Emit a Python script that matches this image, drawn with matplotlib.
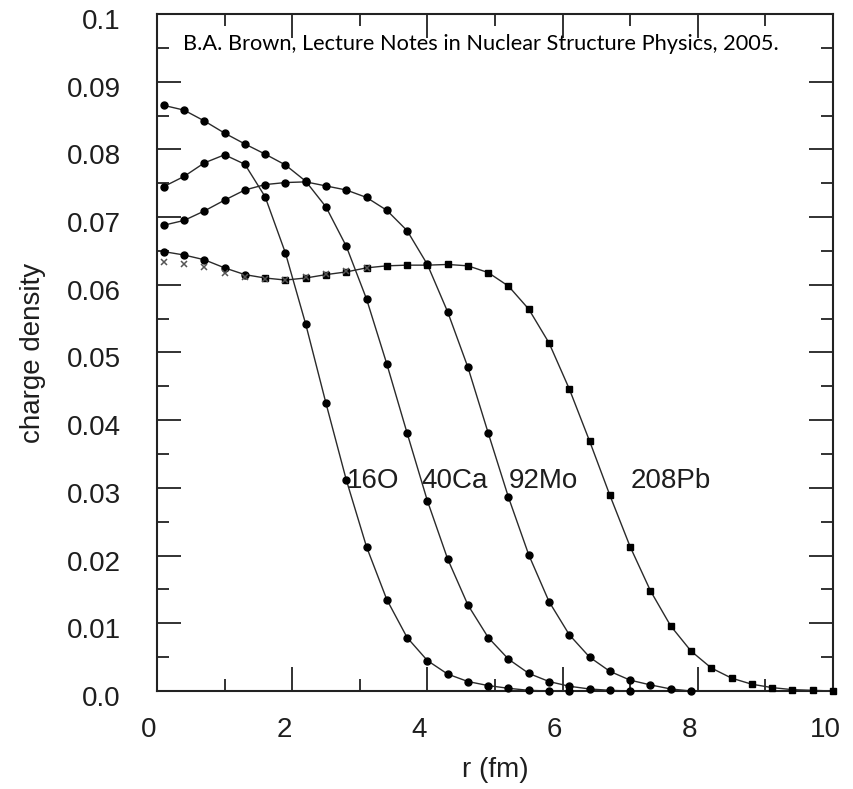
import matplotlib
matplotlib.use("Agg")
import matplotlib.pyplot as plt
from matplotlib.ticker import MultipleLocator
from matplotlib.transforms import ScaledTranslation

# ------------------------------------------------------------------
# data (r in fm, charge density in e/fm^3)
# ------------------------------------------------------------------
r_o16 = [0.1, 0.4, 0.7, 1.0, 1.3, 1.6, 1.9, 2.2, 2.5, 2.8, 3.1, 3.4, 3.7,
         4.0, 4.3, 4.6, 4.9, 5.2, 5.5, 5.8, 6.1]
rho_o16 = [0.0745, 0.0760, 0.0780, 0.0792, 0.0778, 0.0730, 0.0647, 0.0542,
           0.0425, 0.0312, 0.0213, 0.0135, 0.0079, 0.0045, 0.0025, 0.0014,
           0.0008, 0.0004, 0.0001, 0.0, 0.0]

r_ca40 = [0.1, 0.4, 0.7, 1.0, 1.3, 1.6, 1.9, 2.2, 2.5, 2.8, 3.1, 3.4, 3.7,
          4.0, 4.3, 4.6, 4.9, 5.2, 5.5, 5.8, 6.1, 6.4, 6.7, 7.0]
rho_ca40 = [0.0865, 0.0858, 0.0842, 0.0824, 0.0808, 0.0793, 0.0777, 0.0753,
            0.0715, 0.0657, 0.0579, 0.0483, 0.0381, 0.0281, 0.0195, 0.0127,
            0.0079, 0.0047, 0.0026, 0.0014, 0.0007, 0.0003, 0.0001, 0.0]

r_mo92 = [0.1, 0.4, 0.7, 1.0, 1.3, 1.6, 1.9, 2.2, 2.5, 2.8, 3.1, 3.4, 3.7,
          4.0, 4.3, 4.6, 4.9, 5.2, 5.5, 5.8, 6.1, 6.4, 6.7, 7.0, 7.3, 7.6, 7.9]
rho_mo92 = [0.0688, 0.0695, 0.0709, 0.0725, 0.0740, 0.0748, 0.0751, 0.0752,
            0.0746, 0.0740, 0.0729, 0.0710, 0.0680, 0.0630, 0.0560, 0.0478,
            0.0381, 0.0286, 0.0201, 0.0132, 0.0083, 0.0050, 0.0029, 0.0016,
            0.0009, 0.0003, 0.0]

r_pb208 = [0.1, 0.4, 0.7, 1.0, 1.3, 1.6, 1.9, 2.2, 2.5, 2.8, 3.1, 3.4, 3.7,
           4.0, 4.3, 4.6, 4.9, 5.2, 5.5, 5.8, 6.1, 6.4, 6.7, 7.0, 7.3, 7.6,
           7.9, 8.2, 8.5, 8.8, 9.1, 9.4, 9.7, 10.0]
rho_pb208 = [0.0649, 0.0644, 0.0637, 0.0625, 0.0615, 0.0610, 0.0607, 0.0610,
             0.0615, 0.0619, 0.0625, 0.0628, 0.0629, 0.0629, 0.0630, 0.0628,
             0.0618, 0.0598, 0.0564, 0.0514, 0.0446, 0.0369, 0.0289, 0.0213,
             0.0148, 0.0096, 0.0059, 0.0034, 0.0019, 0.0010, 0.0005, 0.0002,
             0.0001, 0.0]

# crosses near the centre of 208Pb
r_pb_x = [0.1, 0.4, 0.7, 1.0, 1.3, 1.6, 1.9, 2.2, 2.5, 2.8, 3.1]
rho_pb_x = [0.0634, 0.0631, 0.0626, 0.0618, 0.0612, 0.0609, 0.0607, 0.0611,
            0.0616, 0.0620, 0.0625]

nuclei = ["16O", "40Ca", "92Mo", "208Pb"]
label_r = [2.81, 3.91, 5.21, 7.01]
label_rho = 0.030

xticks = [0, 2, 4, 6, 8, 10]
yticks = [0.0, 0.01, 0.02, 0.03, 0.04, 0.05, 0.06, 0.07, 0.08, 0.09, 0.1]
ytick_labels = ["0.0", "0.01", "0.02", "0.03", "0.04", "0.05", "0.06",
                "0.07", "0.08", "0.09", "0.1"]

citation = "B.A. Brown, Lecture Notes in Nuclear Structure Physics, 2005."

# ------------------------------------------------------------------
# figure
# ------------------------------------------------------------------
plt.rcParams['font.family'] = ['Liberation Sans', 'DejaVu Sans']
TXT = '#1e1e1e'

fig = plt.figure(figsize=(8.54, 7.89), dpi=100)
ax = fig.add_axes([0.1838, 0.1242, 0.7916, 0.8581])

line_kw = dict(color='#2a2a2a', lw=1.0, clip_on=False, zorder=3)
ax.plot(r_o16, rho_o16, marker='o', ms=5, mfc='black', mec='black', **line_kw)
ax.plot(r_ca40, rho_ca40, marker='o', ms=5, mfc='black', mec='black', **line_kw)
ax.plot(r_mo92, rho_mo92, marker='o', ms=5, mfc='black', mec='black', **line_kw)
ax.plot(r_pb208, rho_pb208, color='#2a2a2a', lw=1.0, zorder=3, clip_on=False)
ax.plot(r_pb208[:5], rho_pb208[:5], ls='none', marker='o', ms=5,
        color='black', zorder=4, clip_on=False)
ax.plot(r_pb208[5:], rho_pb208[5:], ls='none', marker='s', ms=4.6,
        color='black', zorder=4, clip_on=False)
ax.plot(r_pb_x, rho_pb_x, ls='none', marker='x', ms=5, mew=1.1,
        color='#555555', zorder=4)

for name, xr in zip(nuclei, label_r):
    ax.text(xr, label_rho, name, fontsize=20, color=TXT,
            ha='left', va='baseline')

ax.set_xlim(0, 10)
ax.set_ylim(0, 0.1)
ax.set_xticks(xticks)
ax.set_xticklabels([str(t) for t in xticks])
ax.set_yticks(yticks)
ax.set_yticklabels(ytick_labels)
ax.xaxis.set_minor_locator(MultipleLocator(1))
ax.yaxis.set_minor_locator(MultipleLocator(0.005))

ax.tick_params(which='both', direction='in', top=True, right=True,
               width=1.3, color='#222222', labelsize=20, labelcolor=TXT)
ax.tick_params(which='major', length=17)
ax.tick_params(which='minor', length=8.5)
ax.tick_params(axis='x', which='major', pad=19)
ax.tick_params(axis='y', which='major', pad=26)

for sp in ax.spines.values():
    sp.set_linewidth(1.5)
    sp.set_color('#222222')

ax.set_xlabel('r (fm)', fontsize=20, color=TXT, labelpad=10)
ax.set_ylabel('charge density', fontsize=20, color=TXT, labelpad=15)

# tick labels in the original sit slightly off their ticks
shift_x = ScaledTranslation(-8 / 100, 0, fig.dpi_scale_trans)
shift_y = ScaledTranslation(0, -5 / 100, fig.dpi_scale_trans)
for lab in ax.get_xticklabels():
    lab.set_transform(lab.get_transform() + shift_x)
for lab in ax.get_yticklabels():
    lab.set_transform(lab.get_transform() + shift_y)

fig.text(183 / 854, 1 - 50 / 789, citation, family=['Lato', 'DejaVu Sans'],
         fontsize=15.7, color='black', ha='left', va='baseline')

fig.savefig('out.png', dpi=100)
